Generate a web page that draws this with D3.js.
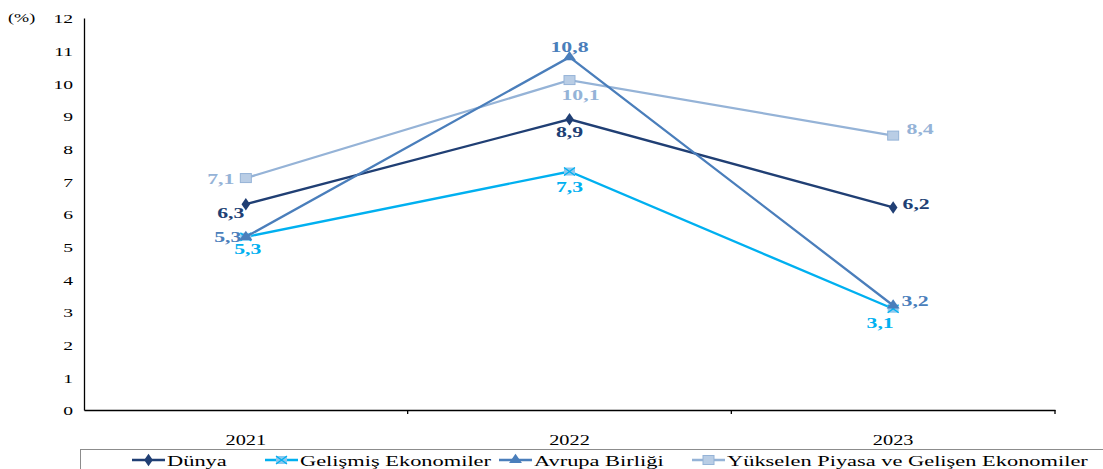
<!DOCTYPE html>
<html><head><meta charset="utf-8">
<script src="https://cdn.jsdelivr.net/npm/d3@7"></script>
<style>body{margin:0;background:#fff}svg{display:block}</style>
</head><body><svg id="c" width="1103" height="469" font-family="'Liberation Serif','Times New Roman',serif"></svg>
<script>
const years = ["2021","2022","2023"];
const dunya = [6.3, 8.9, 6.2];
const gelismis = [5.3, 7.3, 3.1];
const avrupa = [5.3, 10.8, 3.2];
const yukselen = [7.1, 10.1, 8.4];
const seriesNames = ["Dünya","Gelişmiş Ekonomiler","Avrupa Birliği","Yükselen Piyasa ve Gelişen Ekonomiler"];
const yTicks = [0,1,2,3,4,5,6,7,8,9,10,11,12];

const FONT = "'Liberation Serif','Times New Roman',serif";
const SX = 1.45; // horizontal stretch of the reference text
function stretch(sel, k){
  sel.each(function(){
    const l = this.getComputedTextLength();
    d3.select(this).attr("textLength", l*k).attr("lengthAdjust","spacingAndGlyphs");
  });
}

const svg = d3.select("#c");
const x = d3.scalePoint().domain(years).range([84,1055]).padding(0.5);
const xb = d3.scaleBand().domain(years).range([84,1055]);
const y = d3.scaleLinear().domain([0,12]).range([410,18]);

// axes
const ya = svg.append("g").attr("transform","translate(84,0)")
  .call(d3.axisLeft(y).tickValues(yTicks).tickSize(0).tickPadding(11).tickFormat(d3.format("d")));
ya.attr("font-family",FONT);
ya.select(".domain").attr("stroke","#000").attr("stroke-width",1.3);
ya.selectAll("text").attr("font-size",13.5).attr("fill","#000").attr("dy","0.35em").call(stretch,SX);
const pct = svg.append("text").attr("x",8).attr("y",22).attr("font-size",12.5).attr("font-family",FONT).text("(%)");
stretch(pct,SX);

const xa = svg.append("g").attr("transform","translate(0,410)")
  .call(d3.axisBottom(xb).tickSize(0).tickPadding(25));
xa.attr("font-family",FONT);
xa.select(".domain").attr("stroke","#000").attr("stroke-width",1.3);
xa.selectAll("text").attr("font-size",14).attr("fill","#000").call(stretch,SX);
// category boundary ticks
svg.append("g").selectAll("line").data([xb("2022"), xb("2023"), xb.range()[1]]).join("line")
  .attr("x1",d=>d).attr("x2",d=>d)
  .attr("y1",410).attr("y2",414).attr("stroke","#000").attr("stroke-width",1.3);

const series = [
  {name:seriesNames[0], vals:dunya, color:"#203F74", marker:"diamond",
   lab:[[-15,9],[0,12],[23,-4]]},
  {name:seriesNames[1], vals:gelismis, color:"#00B0F0", marker:"x",
   lab:[[2,12],[0,15],[-13,14]]},
  {name:seriesNames[2], vals:avrupa, color:"#4A7EBB", marker:"triangle",
   lab:[[-18,0],[0,-10],[22,-5]]},
  {name:seriesNames[3], vals:yukselen, color:"#95B3D7", marker:"square",
   lab:[[-25,1],[11,15],[27,-7]]}
];

const line = d3.line().x((d,i)=>x(years[i])).y(d=>y(d));

function drawMarker(g, type, cx, cy, color){
  if(type==="diamond"){
    g.append("path").attr("d",d3.symbol(d3.symbolDiamond,45)()).attr("transform",`translate(${cx},${cy}) scale(1.2,1)`).attr("fill",color);
  } else if(type==="square"){
    g.append("rect").attr("x",cx-5.5).attr("y",cy-4.5).attr("width",11).attr("height",9).attr("fill","#B9CDE5").attr("stroke","#95B3D7").attr("stroke-width",1);
  } else if(type==="triangle"){
    g.append("path").attr("d",d3.symbol(d3.symbolTriangle,50)()).attr("transform",`translate(${cx},${cy}) scale(1.2,1)`).attr("fill",color);
  } else if(type==="x"){
    g.append("rect").attr("x",cx-5.5).attr("y",cy-4).attr("width",11).attr("height",8).attr("fill","#8CC8EE");
    g.append("path").attr("d",`M${cx-5.5},${cy-4}L${cx+5.5},${cy+4}M${cx-5.5},${cy+4}L${cx+5.5},${cy-4}`).attr("stroke",color).attr("stroke-width",1.3);
  }
}

const order = [3,0,1,2];
order.forEach(k=>{
  const s = series[k];
  const g = svg.append("g");
  g.append("path").datum(s.vals).attr("d",line).attr("fill","none").attr("stroke",s.color).attr("stroke-width",2.3);
  s.vals.forEach((v,i)=>drawMarker(g,s.marker,x(years[i]),y(v),s.color));
});
order.forEach(k=>{
  const s = series[k];
  s.vals.forEach((v,i)=>{
    const t = svg.append("text").attr("x",x(years[i])+s.lab[i][0]).attr("y",y(v)+s.lab[i][1])
      .attr("text-anchor","middle").attr("dy","0.35em").attr("font-size",15).attr("font-weight","bold")
      .attr("font-family",FONT).attr("fill",s.color).text(String(v).replace(".",","));
    stretch(t,SX);
  });
});

// legend
const lg = svg.append("g").attr("font-family",FONT);
lg.append("rect").attr("x",80.5).attr("y",449.5).attr("width",1040).attr("height",40).attr("fill","none").attr("stroke","#8c8c8c").attr("stroke-width",1);
const lx = [132, 265, 499, 692];
series.forEach((s,i)=>{
  const g = lg.append("g");
  g.append("line").attr("x1",lx[i]).attr("x2",lx[i]+33).attr("y1",460).attr("y2",460).attr("stroke",s.color).attr("stroke-width",2.3);
  drawMarker(g,s.marker,lx[i]+16.5,460,s.color);
  const t = g.append("text").attr("x",lx[i]+35).attr("y",465.5).attr("font-size",14).attr("fill","#000").text(s.name);
  stretch(t,1.6);
});
</script></body></html>
